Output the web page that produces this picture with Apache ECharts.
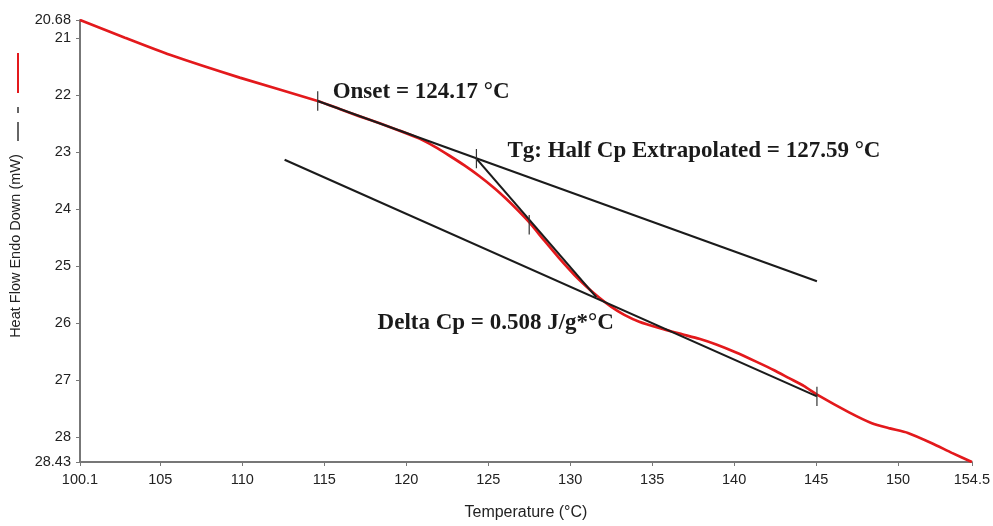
<!DOCTYPE html>
<html>
<head>
<meta charset="utf-8">
<script src="https://cdn.jsdelivr.net/npm/echarts@6/dist/echarts.min.js"></script>
<style>
  html, body { margin: 0; padding: 0; background: #fff; }
  #dsc-chart { width: 993px; height: 526px; }
</style>
</head>
<body>
<div id="dsc-chart"></div>
<script>
// DSC heat flow curve
var heatFlow = [
  [100.1, 20.68], [102.84, 20.99], [105.58, 21.29], [109.84, 21.69],
  [114.6, 22.10], [115.94, 22.24], [117.16, 22.37], [118.38, 22.49],
  [119.59, 22.62], [120.81, 22.76], [121.73, 22.90], [122.64, 23.06],
  [123.55, 23.23], [124.47, 23.42], [125.38, 23.63], [126.11, 23.82],
  [126.78, 24.01], [127.51, 24.23], [128.43, 24.55], [129.34, 24.86],
  [130.26, 25.15], [131.17, 25.40], [131.78, 25.55], [132.51, 25.71],
  [133.3, 25.85], [134.21, 25.97], [135.43, 26.08], [136.83, 26.19],
  [137.87, 26.27], [138.91, 26.37], [140.12, 26.51], [141.34, 26.67],
  [142.44, 26.82], [143.35, 26.96], [144.27, 27.10], [145.06, 27.25],
  [147.01, 27.56], [148.4, 27.75], [149.5, 27.84], [150.6, 27.92],
  [152.06, 28.10], [153.28, 28.27], [154.5, 28.43]
];

// tangent lines (start, end)
var upperTangent = [[114.6, 22.10], [145.05, 25.26]];
var lowerTangent = [[112.58, 23.13], [145.05, 27.28]];
var steepTangent = [[124.28, 23.11], [131.59, 25.54]];

// small vertical markers: [x, y centre]
var markers = [[114.6, 22.10], [124.28, 23.11], [127.5, 24.27], [145.05, 27.28]];
var markerHalf = 0.17;

var xTicks = [100.1, 105, 110, 115, 120, 125, 130, 135, 140, 145, 150, 154.5];
var yTicks = [20.68, 21, 22, 23, 24, 25, 26, 27, 28, 28.43];

var notes = [
  { text: 'Onset = 124.17 °C', x: 115.51, y: 21.95 },
  { text: 'Tg: Half Cp Extrapolated = 127.59 °C', x: 126.17, y: 22.98 },
  { text: 'Delta Cp = 0.508 J/g*°C', x: 118.25, y: 25.99 }
];

var chart = echarts.init(document.getElementById('dsc-chart'));

var black = '#1b1b1b';
var series = [];

series.push({
  type: 'line', data: heatFlow, symbol: 'none', smooth: 0.2,
  lineStyle: { color: '#e3191c', width: 2.7 }, z: 3,
  markPoint: {
    symbol: 'circle', symbolSize: 0, silent: true,
    label: {
      show: true, position: 'right', distance: 0,
      fontFamily: 'Liberation Serif', fontWeight: 'bold', fontSize: 23, color: '#1a1a1a',
      formatter: function (p) { return p.name; }
    },
    data: notes.map(function (n) { return { name: n.text, coord: [n.x, n.y] }; })
  }
});

[upperTangent, lowerTangent, steepTangent].forEach(function (seg) {
  series.push({
    type: 'line', data: seg, symbol: 'none',
    lineStyle: { color: black, width: 2.1 }, z: 4
  });
});

markers.forEach(function (m) {
  series.push({
    type: 'line', data: [[m[0], m[1] - markerHalf], [m[0], m[1] + markerHalf]],
    symbol: 'none', lineStyle: { color: '#333', width: 1.2 }, z: 5
  });
});

var axisFont = { fontFamily: 'Liberation Sans', fontSize: 14.5, color: '#222' };

var option = {
  animation: false,
  backgroundColor: '#fff',
  grid: { left: 80, right: 20, top: 20, bottom: 59, containLabel: false },
  xAxis: {
    type: 'value', min: 100.1, max: 154.5,
    name: 'Temperature (°C)', nameLocation: 'middle', nameGap: 43,
    nameTextStyle: { fontFamily: 'Liberation Sans', fontSize: 16, color: '#222' },
    axisLine: { lineStyle: { color: '#777', width: 2 } },
    axisTick: { show: true, length: 4, customValues: xTicks, lineStyle: { color: '#777' } },
    axisLabel: Object.assign({ margin: 10, customValues: xTicks, formatter: function (v) { return String(v); } }, axisFont),
    splitLine: { show: false }
  },
  yAxis: {
    type: 'value', inverse: true, min: 20.68, max: 28.43,
    name: 'Heat Flow Endo Down (mW)', nameLocation: 'middle', nameGap: 56, nameRotate: 90,
    nameTextStyle: { fontFamily: 'Liberation Sans', fontSize: 14.5, color: '#222', padding: [0, 10, 0, 0] },
    axisLine: { lineStyle: { color: '#777', width: 2 } },
    axisTick: { show: true, length: 4, customValues: yTicks, lineStyle: { color: '#777' } },
    axisLabel: Object.assign({ margin: 9, customValues: yTicks, formatter: function (v) { return String(v); } }, axisFont),
    splitLine: { show: false }
  },
  graphic: [
    { type: 'line', shape: { x1: 18, y1: 53, x2: 18, y2: 93 }, style: { stroke: '#e3191c', lineWidth: 2 } },
    { type: 'line', shape: { x1: 18, y1: 107, x2: 18, y2: 113 }, style: { stroke: '#333', lineWidth: 1.5 } },
    { type: 'line', shape: { x1: 18, y1: 122, x2: 18, y2: 141 }, style: { stroke: '#333', lineWidth: 1.5 } }
  ],
  series: series
};

chart.setOption(option);
</script>
</body>
</html>
